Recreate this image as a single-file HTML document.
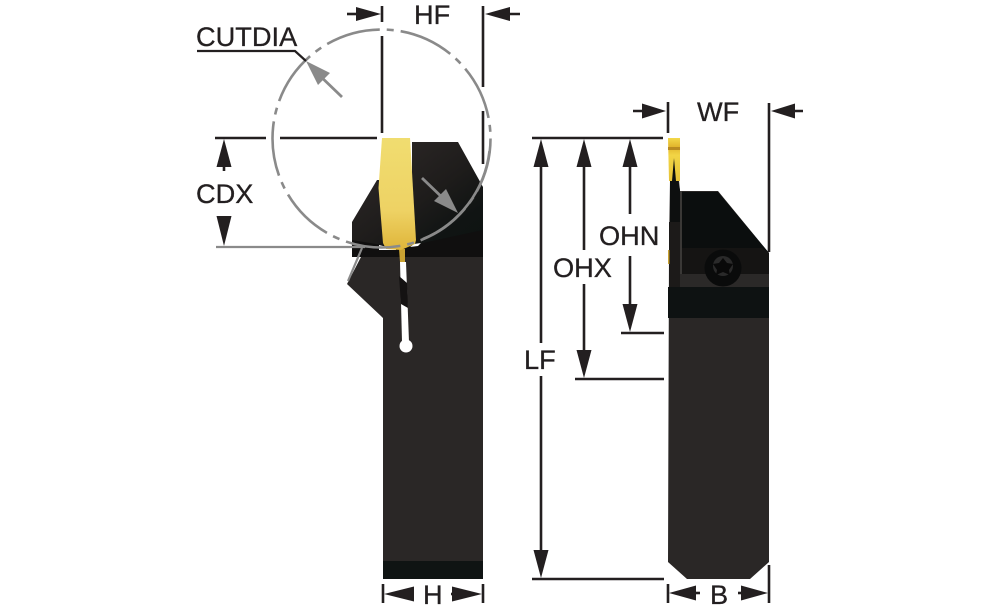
<!DOCTYPE html>
<html><head><meta charset="utf-8"><style>
html,body{margin:0;padding:0;background:#fff;width:1000px;height:611px;overflow:hidden}
svg{display:block}
text{font-family:"Liberation Sans",sans-serif;font-size:27.200px;fill:#231f20;stroke:#231f20;stroke-width:.3px}
</style></head><body>
<svg width="1000" height="611" viewBox="0 0 1000 611" xmlns="http://www.w3.org/2000/svg">
<defs>
<linearGradient id="g" x1="0" y1="0" x2="0" y2="1"><stop offset="0" stop-color="#f0dd70"/><stop offset=".65" stop-color="#eed264"/><stop offset="1" stop-color="#dfb53a"/></linearGradient>
<linearGradient id="d" gradientUnits="userSpaceOnUse" x1="400" y1="150" x2="470" y2="245"><stop offset="0" stop-color="#292524"/><stop offset=".45" stop-color="#1e1c1b"/><stop offset=".8" stop-color="#101413"/><stop offset="1" stop-color="#0e1312"/></linearGradient>
<linearGradient id="e" x1="0" y1="0" x2="0" y2="1"><stop offset="0" stop-color="#f3d94a"/><stop offset=".2" stop-color="#e2b52c"/><stop offset=".4" stop-color="#f2d545"/><stop offset="1" stop-color="#e6c238"/></linearGradient>
</defs>
<!-- left tool -->
<polygon points="383,257 483,257 483,579 383,579 383,318 347,284 361,257" fill="#2a2726"/>
<polygon points="412,142 458,142 483,187 483,257 352,257 352,222 377,180 412,180" fill="url(#d)"/>
<polygon points="352,240 400,248 483,230 483,257 352,257" fill="#100f0f"/>
<rect x="383" y="561" width="100" height="18" fill="#0f1413"/>
<!-- slot -->
<polygon points="400,262 406,262 409,342 402,342" fill="#fff"/>
<polygon points="399,276 407,283 408,308 401,304" fill="#141212"/>
<circle cx="406" cy="346" r="6.500" fill="#fff"/>
<polygon points="379,245 396,249 396,250 379,250" fill="#fff"/>
<polygon points="414,244 421,243 418,246 410,247" fill="#fff"/>
<polygon points="399,249 405,249 405,262 400,262" fill="#c9a232"/>
<!-- insert -->
<polygon points="382,138 410,138 416,240 415,244 401,250 386,249 383,243 378.500,188" fill="url(#g)"/>
<!-- circle -->
<circle cx="381.500" cy="138.500" r="109" fill="none" stroke="#8a8a8a" stroke-width="2.600" stroke-dasharray="55.100 7 7 7"/>
<path d="M 489.500 151 A 109 109 0 0 1 423 239" fill="none" stroke="#8a8a8a" stroke-width="2.600"/>
<!-- CUTDIA -->
<text x="196" y="46">CUTDIA</text>
<polyline points="197,51 295,51 306,61" fill="none" stroke="#231f20" stroke-width="2.200"/>
<line x1="342" y1="97" x2="316" y2="72" stroke="#8a8a8a" stroke-width="2.800"/>
<polygon points="306,61 330,73 318,85" fill="#8a8a8a"/>
<line x1="422" y1="178" x2="448" y2="203" stroke="#8a8a8a" stroke-width="2.800"/>
<polygon points="458,213 434,201 446,189" fill="#8a8a8a"/>
<line x1="216" y1="247" x2="365" y2="247" stroke="#8a8a8a" stroke-width="2.200"/>
<line x1="362" y1="248" x2="348" y2="281" stroke="#8a8a8a" stroke-width="2.200"/>
<!-- dimension lines -->
<g stroke="#231f20" stroke-width="2.600" fill="none">
<line x1="382" y1="6" x2="382" y2="22"/><line x1="382" y1="36" x2="382" y2="133"/>
<line x1="483" y1="6" x2="483" y2="87"/><line x1="483" y1="111" x2="483" y2="164"/>
<line x1="347" y1="14" x2="362" y2="14"/><line x1="498" y1="14" x2="520" y2="14"/>
<line x1="215" y1="138" x2="266" y2="138"/><line x1="280" y1="138" x2="377" y2="138"/>
<line x1="224" y1="150" x2="224" y2="171"/><line x1="224" y1="216" x2="224" y2="235"/>
<line x1="383" y1="584" x2="383" y2="603"/><line x1="483" y1="584" x2="483" y2="603"/>
<line x1="400" y1="594" x2="414" y2="594"/><line x1="451" y1="594" x2="466" y2="594"/>
<line x1="668" y1="584" x2="668" y2="603"/><line x1="769" y1="565" x2="769" y2="603"/>
<line x1="685" y1="593" x2="700" y2="593"/><line x1="738" y1="593" x2="752" y2="593"/>
<line x1="532" y1="138" x2="663" y2="138"/><line x1="532" y1="579" x2="664" y2="579"/>
<line x1="541" y1="155" x2="541" y2="343"/><line x1="541" y1="376" x2="541" y2="560"/>
<line x1="584" y1="155" x2="584" y2="250"/><line x1="584" y1="284" x2="584" y2="362"/>
<line x1="575" y1="379" x2="664" y2="379"/>
<line x1="630" y1="155" x2="630" y2="214"/><line x1="630" y1="256" x2="630" y2="316"/>
<line x1="621" y1="333" x2="664" y2="333"/>
<line x1="668" y1="102" x2="668" y2="133"/><line x1="769" y1="103" x2="769" y2="252"/>
<line x1="633" y1="111" x2="650" y2="111"/><line x1="785" y1="111" x2="803" y2="111"/>
</g>
<g fill="#231f20">
<polygon points="381,14 356,7 356,21"/><polygon points="485,14 510,7 510,21"/>
<polygon points="224,139 216.500,167 231.500,167"/><polygon points="224,246 216.500,216 231.500,216"/>
<polygon points="384,594 414,586.500 414,601.500"/><polygon points="482,594 452,586.500 452,601.500"/>
<polygon points="669,593 696,585.500 696,600.500"/><polygon points="768,593 741,585.500 741,600.500"/>
<polygon points="541,139 533.500,167 548.500,167"/><polygon points="541,578 533.500,550 548.500,550"/>
<polygon points="584,139 576.500,167 591.500,167"/><polygon points="584,378 576.500,350 591.500,350"/>
<polygon points="630,139 622.500,167 637.500,167"/><polygon points="630,332 622.500,304 637.500,304"/>
<polygon points="666,111 642,103.500 642,118.500"/><polygon points="771,111 795,103.500 795,118.500"/>
</g>
<!-- right tool -->
<polygon points="670,180 679,180 680,191 718,191 769,253 769,562 750,579 687,579 668,562 669,248" fill="#2a2726"/>
<polygon points="670,180 678,180 680,190 680,222 670,222" fill="#0d0f0f"/>
<rect x="669" y="222" width="11" height="65" fill="#1c1a19"/>
<rect x="680" y="191" width="2" height="85" fill="#3a3836"/>
<polygon points="682,192 718,192 769,253 682,248" fill="#0b0e0e"/>
<polygon points="682,248 762,248 769,253 769,276 682,274" fill="#151413"/>
<rect x="680" y="274" width="89" height="13" fill="#2b2928"/>
<rect x="668" y="287" width="101" height="31" fill="#0e1212"/>
<!-- right insert -->
<polygon points="668,138 680,138 680,181 669,181" fill="url(#e)"/>
<rect x="668" y="147" width="12" height="3" fill="#b98a20"/>
<polygon points="672,181 674,158 676,181" fill="#0d0f0f"/>
<polygon points="668,250 669.500,250 669.500,264 668,264" fill="#c9a232"/>
<circle cx="723" cy="268" r="18.500" fill="#0a0b0b"/>
<circle cx="723" cy="266" r="10" fill="#2a2a2a"/>
<polygon points="723,258 727,263 733,264 729,270 730,275 723,272 716,275 717,270 713,264 719,263" fill="#090909"/>
<!-- labels -->
<text x="414" y="24">HF</text>
<text x="196" y="203">CDX</text>
<text x="697" y="121">WF</text>
<text x="423" y="604">H</text>
<text x="710" y="604">B</text>
<text x="524" y="369">LF</text>
<text x="553" y="277">OHX</text>
<text x="599" y="245">OHN</text>
</svg>
</body></html>
